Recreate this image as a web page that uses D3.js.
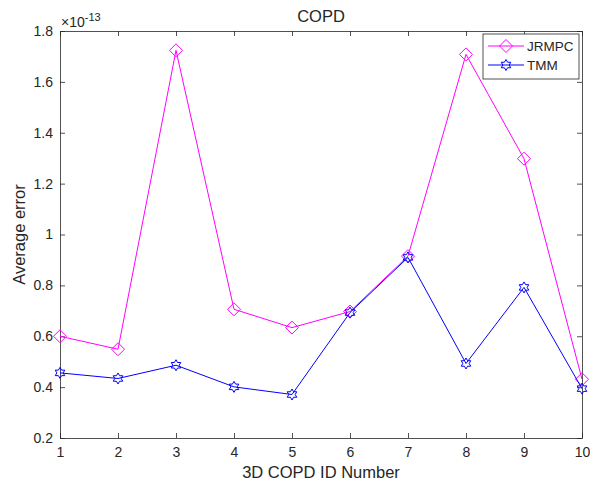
<!DOCTYPE html>
<html>
<head>
<meta charset="utf-8">
<script src="https://cdn.jsdelivr.net/npm/d3@7"></script>
<style>
  body { margin: 0; background: #fff; }
  text { font-family: "Liberation Sans", Arial, sans-serif; fill: #262626; }
</style>
</head>
<body>
<svg id="chart"></svg>
<script>
// data, in units of 1e-13
const ids = [1, 2, 3, 4, 5, 6, 7, 8, 9, 10];
const jrmpc = [0.600, 0.549, 1.724, 0.706, 0.634, 0.697, 0.915, 1.708, 1.298, 0.431];
const tmm = [0.456, 0.434, 0.486, 0.401, 0.371, 0.693, 0.910, 0.493, 0.792, 0.394];
const yTicks = [0.2, 0.4, 0.6, 0.8, 1, 1.2, 1.4, 1.6, 1.8];
const seriesNames = ["JRMPC", "TMM"];

const width = 590, height = 486;
const margin = { top: 31, right: 8, bottom: 48, left: 60 };

const svg = d3.select("#chart")
    .attr("width", width)
    .attr("height", height);

const x = d3.scaleLinear().domain([1, 10]).range([margin.left, width - margin.right]);
const y = d3.scaleLinear().domain([0.2, 1.8]).range([height - margin.bottom, margin.top]);

const axisColor = "#262626";

// axes: bottom/left with labels, top/right box with ticks only
svg.append("g")
    .attr("transform", `translate(0,${y(0.2)})`)
    .call(d3.axisBottom(x).tickValues(ids).tickSizeInner(-5).tickSizeOuter(0).tickPadding(9));
svg.append("g")
    .attr("transform", `translate(${x(1)},0)`)
    .call(d3.axisLeft(y).tickValues(yTicks).tickFormat(d3.format("")).tickSizeInner(-5).tickSizeOuter(0).tickPadding(7));
svg.append("g")
    .attr("transform", `translate(0,${y(1.8)})`)
    .call(d3.axisTop(x).tickValues(ids).tickSizeInner(-5).tickSizeOuter(0).tickFormat(""));
svg.append("g")
    .attr("transform", `translate(${x(10)},0)`)
    .call(d3.axisRight(y).tickValues(yTicks).tickSizeInner(-5).tickSizeOuter(0).tickFormat(""));

svg.selectAll(".domain, .tick line").attr("stroke", axisColor).attr("stroke-width", 0.8);
svg.selectAll(".tick text").style("font-size", "14px").attr("fill", axisColor);

// exponent label
const expo = svg.append("text")
    .attr("x", x(1) + 1)
    .attr("y", y(1.8) - 4)
    .style("font-size", "14px");
expo.append("tspan").text("\u00d710");
expo.append("tspan").attr("dy", -6).style("font-size", "11px").text("-13");

// titles
svg.append("text")
    .attr("x", (x(1) + x(10)) / 2)
    .attr("y", 22)
    .attr("text-anchor", "middle")
    .style("font-size", "16.5px")
    .text("COPD");
svg.append("text")
    .attr("x", (x(1) + x(10)) / 2)
    .attr("y", 478)
    .attr("text-anchor", "middle")
    .style("font-size", "16.5px")
    .text("3D COPD ID Number");
svg.append("text")
    .attr("transform", `translate(25,${(y(0.2) + y(1.8)) / 2}) rotate(-90)`)
    .attr("text-anchor", "middle")
    .style("font-size", "16.5px")
    .text("Average error");

// marker shapes
function diamondPath(r) {
    return `M0,${-r}L${r},0L0,${r}L${-r},0Z`;
}
function hexagramPath(r) {
    let pts = [];
    for (let i = 0; i < 12; i++) {
        const a = -Math.PI / 2 + i * Math.PI / 6;
        const rr = i % 2 === 0 ? r : r * 0.577;
        pts.push([rr * Math.cos(a), rr * Math.sin(a)]);
    }
    return "M" + pts.map(p => p.join(",")).join("L") + "Z";
}

const series = [
    { name: seriesNames[0], values: jrmpc, color: "#ff00ff", marker: diamondPath(6.5) },
    { name: seriesNames[1], values: tmm, color: "#0000ff", marker: hexagramPath(5.5) }
];

const line = d3.line()
    .x((d, i) => x(ids[i]))
    .y(d => y(d));

series.forEach(s => {
    svg.append("path")
        .datum(s.values)
        .attr("fill", "none")
        .attr("stroke", s.color)
        .attr("stroke-width", 1)
        .attr("d", line);
    svg.selectAll(null)
        .data(s.values)
        .enter()
        .append("path")
        .attr("transform", (d, i) => `translate(${x(ids[i])},${y(d)})`)
        .attr("d", s.marker)
        .attr("fill", "none")
        .attr("stroke", s.color)
        .attr("stroke-width", 1);
});

// legend
const legend = svg.append("g").attr("transform", "translate(483,34)");
legend.append("rect")
    .attr("width", 96)
    .attr("height", 45)
    .attr("fill", "#fff")
    .attr("stroke", axisColor)
    .attr("stroke-width", 0.8);
series.forEach((s, i) => {
    const ly = 12 + i * 19;
    legend.append("line")
        .attr("x1", 5).attr("x2", 41)
        .attr("y1", ly).attr("y2", ly)
        .attr("stroke", s.color);
    legend.append("path")
        .attr("transform", `translate(23,${ly})`)
        .attr("d", s.marker)
        .attr("fill", "none")
        .attr("stroke", s.color);
    legend.append("text")
        .attr("x", 44)
        .attr("y", ly + 5)
        .style("font-size", "13.5px")
        .text(s.name);
});
</script>
</body>
</html>
